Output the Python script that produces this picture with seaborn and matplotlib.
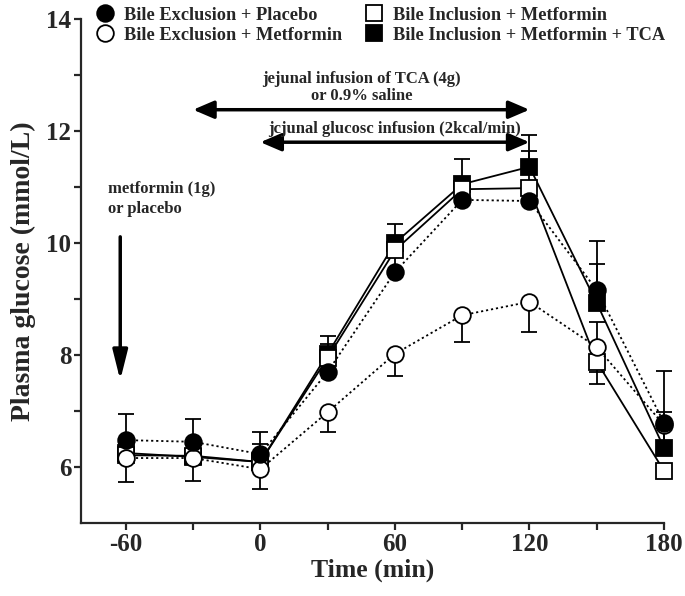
import numpy as np
import pandas as pd
import matplotlib
matplotlib.use("Agg")
import matplotlib.pyplot as plt
from matplotlib.lines import Line2D
import seaborn as sns

# ---------------- data ----------------
time_min = [-60, -30, 0, 30, 60, 90, 120, 150, 180]

excl_placebo = [6.48, 6.45, 6.23, 7.70, 9.48, 10.77, 10.75, 9.16, 6.79]
excl_placebo_up = [0.46, 0.41, 0.39, 0.50, 0.36, 0.30, 0.30, 0.88, 0.93]
excl_placebo_dn = [0, 0, 0, 0, 0, 0, 0, 0, 0]

excl_metformin = [6.16, 6.16, 5.96, 6.98, 8.02, 8.71, 8.95, 8.14, 6.75]
excl_metformin_up = [0, 0, 0, 0, 0, 0, 0, 0.45, 0]
excl_metformin_dn = [0.43, 0.41, 0.36, 0.36, 0.39, 0.48, 0.54, 0.45, 0.30]

incl_metformin = [6.21, 6.20, 6.09, 7.95, 9.87, 10.96, 10.98, 7.88, 5.93]
incl_metformin_up = [0, 0, 0, 0, 0, 0, 0.66, 0, 0]
incl_metformin_dn = [0, 0, 0, 0, 0, 0, 0, 0.39, 0]

incl_met_tca = [6.25, 6.18, 6.09, 8.02, 10.00, 11.05, 11.36, 8.93, 6.34]
incl_met_tca_up = [0, 0, 0.32, 0.32, 0.34, 0.45, 0.57, 0.70, 0.64]
incl_met_tca_dn = [0, 0, 0, 0, 0, 0, 0, 0, 0]

labels = ["Bile Exclusion + Placebo", "Bile Exclusion + Metformin",
          "Bile Inclusion + Metformin", "Bile Inclusion + Metformin + TCA"]

x_ticks = [-60, 0, 60, 120, 180]
y_ticks = [6, 8, 10, 12, 14]

# ---------------- style ----------------
sns.set_style("ticks")
plt.rcParams["font.family"] = ["Liberation Serif", "DejaVu Serif"]
plt.rcParams["font.weight"] = "bold"

W, H = 685, 596
fig = plt.figure(figsize=(W / 100, H / 100), dpi=100)
ax = fig.add_axes([81 / W, 1 - 523 / H, (664 - 81) / W, (523 - 19) / H])

dot = (0, (1.2, 1.6))
series = [
    # (values, up, down, marker, facecolor, linestyle, ms, label)
    (incl_met_tca, incl_met_tca_up, incl_met_tca_dn, "s", "black", "-", 11, labels[3]),
    (incl_metformin, incl_metformin_up, incl_metformin_dn, "s", "white", "-", 11, labels[2]),
    (excl_metformin, excl_metformin_up, excl_metformin_dn, "o", "white", dot, 12, labels[1]),
    (excl_placebo, excl_placebo_up, excl_placebo_dn, "o", "black", dot, 12, labels[0]),
]

for i, (vals, up, dn, mk, fc, ls, ms, lab) in enumerate(series):
    df = pd.DataFrame({"time": time_min, "glucose": vals})
    ax.errorbar(df["time"], df["glucose"], yerr=[dn, up], fmt="none",
                ecolor="black", elinewidth=1.3, capsize=5.5, capthick=1.3,
                zorder=2, clip_on=False)
    sns.lineplot(data=df, x="time", y="glucose", ax=ax, color="black",
                 linestyle=ls, linewidth=1.3, marker=mk, markersize=ms,
                 markerfacecolor=fc, markeredgecolor="black",
                 markeredgewidth=1.3, zorder=3 + i, clip_on=False,
                 legend=False)

# ---------------- axes ----------------
ax.set_xlim(-80, 180)
ax.set_ylim(5, 14)
ax.set_xticks(x_ticks)
ax.set_xticks([-30, 30, 90, 150], minor=True)
ax.set_yticks(y_ticks)
ax.set_yticks([7, 9, 11, 13], minor=True)
ax.set_xticklabels([str(v) for v in x_ticks])
ax.set_yticklabels([str(v) for v in y_ticks])
for s in ["top", "right"]:
    ax.spines[s].set_visible(False)
for s in ["left", "bottom"]:
    ax.spines[s].set_linewidth(1.6)
ax.tick_params(which="both", length=5, width=1.6, direction="out",
               labelsize=18, pad=2)
for t in ax.get_xticklabels() + ax.get_yticklabels():
    t.set_fontweight("bold")
ax.set_xlabel("Time (min)", fontsize=18.5, fontweight="bold", labelpad=2)
ax.set_ylabel("Plasma glucose (mmol/L)", fontsize=20, fontweight="bold", labelpad=7)

# ---------------- annotations ----------------
afs = 12
ax.annotate("", xy=(120, 12.38), xytext=(-30, 12.38),
            arrowprops=dict(arrowstyle="<|-|>,head_length=0.7,head_width=0.3",
                            lw=2.5, color="black", mutation_scale=18,
                            shrinkA=0, shrinkB=0))
ax.text(45, 12.49, "jejunal infusion of TCA (4g)\nor 0.9% saline",
        ha="center", va="bottom", fontsize=afs, fontweight="bold",
        linespacing=1.05)
ax.annotate("", xy=(120, 11.8), xytext=(0, 11.8),
            arrowprops=dict(arrowstyle="<|-|>,head_length=0.7,head_width=0.3",
                            lw=2.5, color="black", mutation_scale=18,
                            shrinkA=0, shrinkB=0))
ax.text(60, 11.90, "jcjunal glucosc infusion (2kcal/min)",
        ha="center", va="bottom", fontsize=afs, fontweight="bold")
ax.annotate("", xy=(-62.5, 7.55), xytext=(-62.5, 10.11),
            arrowprops=dict(arrowstyle="-|>,head_length=1.0,head_width=0.25",
                            lw=2.5, color="black", mutation_scale=18,
                            shrinkA=0, shrinkB=0))
ax.text(-68, 10.79, "metformin (1g)\nor placebo", ha="left", va="center",
        fontsize=afs, fontweight="bold", linespacing=1.3)

# ---------------- legend ----------------
def handle(mk, fc, ms):
    return Line2D([], [], linestyle="none", marker=mk, markersize=ms,
                  markerfacecolor=fc, markeredgecolor="black", markeredgewidth=1.3)

lkw = dict(loc="upper left", frameon=False, fontsize=13.2, handlelength=1.0,
           handletextpad=0.54, labelspacing=0.18, borderpad=0, borderaxespad=0)
leg1 = fig.legend([handle("o", "black", 12), handle("o", "white", 12)],
                  [labels[0], labels[1]], bbox_to_anchor=(96 / W, 1 - 6.5 / H), **lkw)
leg2 = fig.legend([handle("s", "white", 11), handle("s", "black", 11)],
                  [labels[2], labels[3]], bbox_to_anchor=(365 / W, 1 - 6.5 / H), **lkw)
for lg in (leg1, leg2):
    for t in lg.get_texts():
        t.set_fontweight("bold")

fig.savefig("out.png", dpi=100)
